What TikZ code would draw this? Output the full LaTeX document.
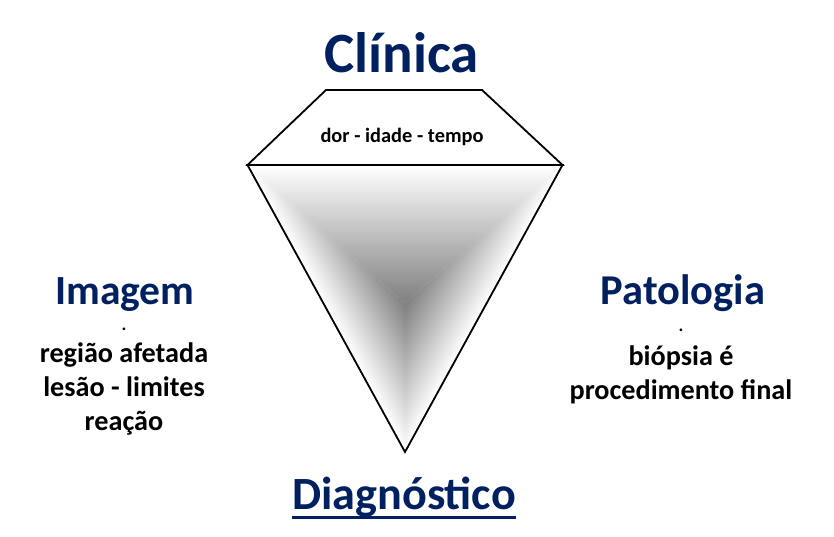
\documentclass[tikz,border=0pt]{standalone}
\usepackage{fontspec}
\setmainfont{Carlito}
\usepackage{xcolor}
\usepackage{tikz}
\definecolor{azul}{HTML}{002060}

\begin{document}
\begin{tikzpicture}[
      x=1pt, y=1pt,
      titulo/.style={font=\bfseries\fontsize{#1}{#1}\selectfont, text=azul, inner sep=0pt, anchor=base},
      corpo/.style={font=\bfseries\fontsize{#1}{34}\selectfont, align=center, inner sep=0pt, anchor=base},
      borda/.style={line width=1.8pt, line join=miter}
    ]
    \useasboundingbox (0,0) rectangle (834,537);

    % Vertices do funil
    \coordinate (A) at (247.5,372);
    \coordinate (B) at (562.5,372);
    \coordinate (D) at (405,85);
    \coordinate (C) at (405,234);
    \coordinate (TA) at (326,447);
    \coordinate (TB) at (482,447);

    % Sombreamento: tres faixas do centro para as bordas
    \begin{scope}
      \clip (A) -- (B) -- (C) -- cycle;
      \shade[top color=white, bottom color=black!50] (A |- C) rectangle (B);
    \end{scope}
    \begin{scope}
      \clip (A) -- (D) -- (C) -- cycle;
      \shade[transform canvas={shift={(A)}, rotate=-61.24}, bottom color=white, top color=black!50] (-10,0) rectangle (340,71.7);
    \end{scope}
    \begin{scope}
      \clip (B) -- (D) -- (C) -- cycle;
      \shade[transform canvas={shift={(D)}, rotate=61.24}, bottom color=white, top color=black!50] (-10,0) rectangle (340,71.7);
    \end{scope}

    % Contornos
    \draw[borda] (TA) -- (TB) -- (B) -- (A) -- cycle;
    \draw[borda] (A) -- (B) -- (D) -- cycle;

    % Textos (ancora na linha de base da ultima linha)
    \node[titulo=57] (clinica) at (401.5,464) {Clínica};
    \node[corpo=20.4] (dor) at (402,394) {dor - idade - tempo};

    \node[titulo=41.5] (imagem) at (125,232) {Imagem};
    \node[corpo=18] (imagemponto) at (124,206) {.};
    \node[corpo=28.2] (imagemtxt) at (124,106) {região afetada\\lesão - limites\\reação};

    \node[titulo=42.5] (patologia) at (683,232) {Patologia};
    \node[corpo=18] (patologiaponto) at (681,205) {.};
    \node[corpo=28.2] (patologiatxt) at (681,137) {biópsia é\\procedimento final};

    \node[titulo=46.2] (diagnostico) at (404,27) {Diagnóstico};
    \draw[azul, line width=2.5pt] ([yshift=-7.5pt]diagnostico.base west) -- ([yshift=-7.5pt]diagnostico.base east);
  \end{tikzpicture}
\end{document}
